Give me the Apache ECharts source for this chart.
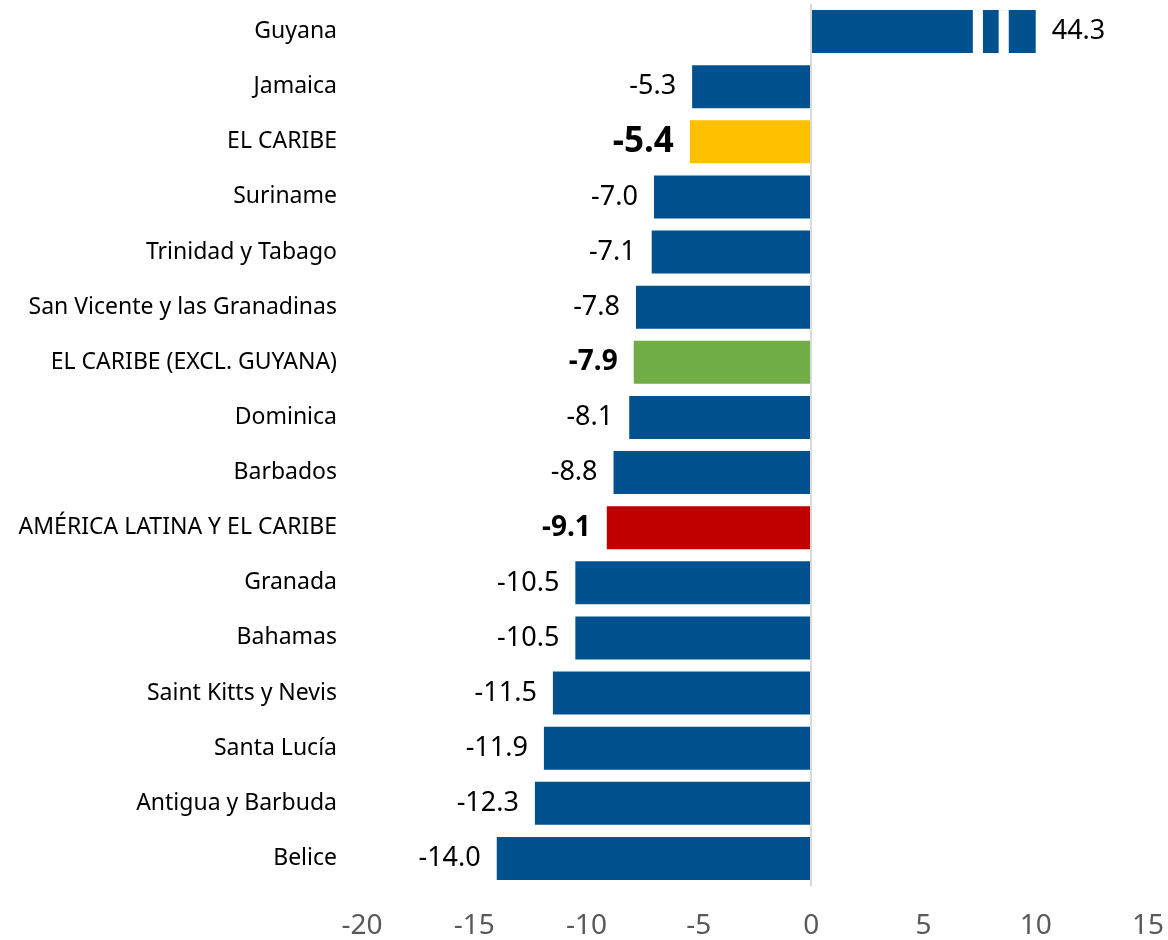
<!DOCTYPE html>
<html>
<head>
<meta charset="utf-8">
<script src="https://cdn.jsdelivr.net/npm/echarts@6/dist/echarts.min.js"></script>
<style>
  html, body { margin: 0; padding: 0; background: #fff; }
  #chart { width: 1168px; height: 940px; }
</style>
</head>
<body>
<div id="chart"></div>
<script>
// datos del gráfico
var categorias = ['Guyana', 'Jamaica', 'EL CARIBE', 'Suriname', 'Trinidad y Tabago',
  'San Vicente y las Granadinas', 'EL CARIBE (EXCL. GUYANA)', 'Dominica', 'Barbados',
  'AMÉRICA LATINA Y EL CARIBE', 'Granada', 'Bahamas', 'Saint Kitts y Nevis',
  'Santa Lucía', 'Antigua y Barbuda', 'Belice'];
var valores = [44.3, -5.3, -5.4, -7.0, -7.1, -7.8, -7.9, -8.1, -8.8, -9.1, -10.5, -10.5, -11.5, -11.9, -12.3, -14.0];
var agregados = { 'EL CARIBE': '#FFC000', 'EL CARIBE (EXCL. GUYANA)': '#70AD47', 'AMÉRICA LATINA Y EL CARIBE': '#C00000' };
var ticksX = [-20, -15, -10, -5, 0, 5, 10, 15];
var topeEje = 10;               // la barra de Guyana se corta aquí
var cortes = [7.2, 7.65, 8.35, 8.8]; // inicio/fin de los dos cortes blancos

var azul = '#00518E';

var datosBarra = valores.map(function (v, i) {
  var cat = categorias[i];
  var esAgg = agregados[cat];
  var grande = cat === 'EL CARIBE';
  return {
    value: Math.min(v, topeEje),
    real: v,
    itemStyle: { color: esAgg || azul },
    label: {
      position: v >= 0 ? 'right' : 'left',
      distance: 16,
      fontWeight: esAgg ? 'bold' : 'normal',
      fontSize: grande ? 35 : (esAgg ? 28 : 27)
    }
  };
});

// series apiladas para dibujar los cortes de la barra truncada
function serieCorte(i) {
  return categorias.map(function (c, k) {
    if (valores[k] <= topeEje) return '-';
    return i === 0 ? cortes[0] : cortes[i] - cortes[i - 1];
  });
}

var myChart = echarts.init(document.getElementById('chart'));
var option = {
  animation: false,
  grid: { left: 362, right: 20, top: 4, bottom: 53 },
  xAxis: {
    type: 'value',
    min: ticksX[0],
    max: ticksX[ticksX.length - 1],
    interval: 5,
    axisLine: { show: false },
    axisTick: { show: false },
    splitLine: { show: false },
    axisLabel: {
      color: '#595959',
      fontSize: 28,
      margin: 26,
      fontFamily: 'Noto Sans, sans-serif'
    }
  },
  yAxis: {
    type: 'category',
    inverse: true,
    data: categorias,
    axisLine: { show: false },
    axisTick: { show: false },
    axisLabel: {
      color: '#000',
      fontSize: 23,
      margin: 25,
      padding: [4, 0, 0, 0],
      fontFamily: 'Noto Sans, sans-serif'
    }
  },
  series: [
    {
      name: 'valor',
      type: 'bar',
      barCategoryGap: '22%',
      barGap: '-100%',
      data: datosBarra,
      label: {
        show: true,
        color: '#000',
        fontFamily: 'Noto Sans, sans-serif',
        formatter: function (p) { return p.data.real.toFixed(1); }
      },
      markLine: {
        silent: true,
        symbol: 'none',
        label: { show: false },
        lineStyle: { color: '#D9D9D9', width: 2, type: 'solid' },
        data: [{ xAxis: 0 }]
      },
      z: 2
    },
    {
      name: 'base', type: 'bar', stack: 'corte', barGap: '-100%',
      data: serieCorte(0), itemStyle: { color: 'rgba(0,0,0,0)' }, z: 3
    },
    {
      name: 'corte1', type: 'bar', stack: 'corte',
      data: serieCorte(1), itemStyle: { color: '#fff' }, z: 3
    },
    {
      name: 'puente', type: 'bar', stack: 'corte',
      data: serieCorte(2), itemStyle: { color: 'rgba(0,0,0,0)' }, z: 3
    },
    {
      name: 'corte2', type: 'bar', stack: 'corte',
      data: serieCorte(3), itemStyle: { color: '#fff' }, z: 3
    }
  ]
};
myChart.setOption(option);
</script>
</body>
</html>
